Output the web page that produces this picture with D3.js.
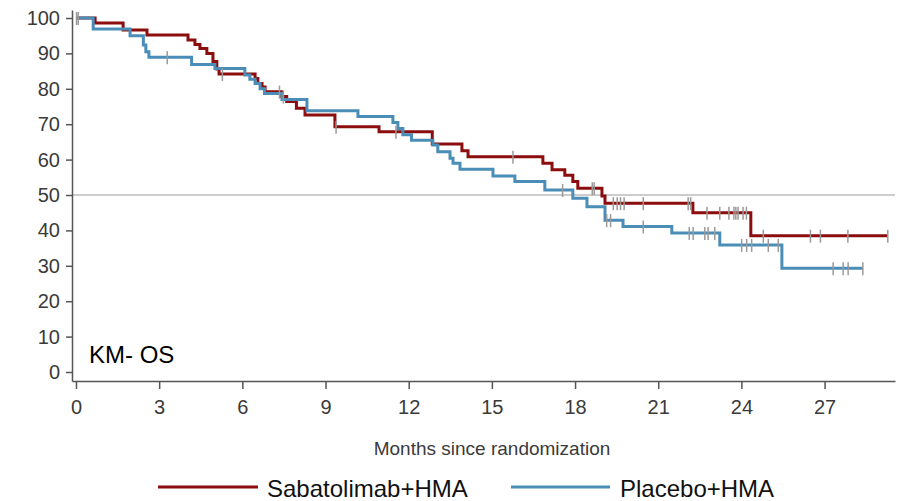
<!DOCTYPE html>
<html>
<head>
<meta charset="utf-8">
<script src="https://cdn.jsdelivr.net/npm/d3@7"></script>
<style>
  html, body { margin: 0; padding: 0; background: #fff; }
  svg { display: block; font-family: "Liberation Sans", Arial, sans-serif; }
</style>
</head>
<body>
<svg id="chart" width="897" height="501"></svg>
<script>
// ---- Data ----
const seriesNames = ["Sabatolimab+HMA", "Placebo+HMA"];
const xTickValues = [0, 3, 6, 9, 12, 15, 18, 21, 24, 27];
const yTickValues = [0, 10, 20, 30, 40, 50, 60, 70, 80, 90, 100];
const referenceLevel = 50;
const panelLabel = "KM- OS";
const xAxisTitle = "Months since randomization";

const sabaTimes = [0, 0.69, 1.70, 2.56, 4.04, 4.29, 4.47, 4.72, 4.94, 5.08, 5.16, 6.46, 6.56, 6.71, 6.82, 7.42, 7.60, 7.95, 8.26, 9.34, 10.93, 12.85, 13.92, 14.14, 16.84, 17.17, 17.63, 17.92, 18.10, 18.97, 19.08, 22.25, 24.34, 29.28];
const sabaSurv  = [100, 98.6, 96.6, 95.2, 93.8, 92.5, 91.4, 90.0, 87.7, 85.6, 84.2, 82.9, 81.5, 80.5, 79.2, 77.8, 76.4, 74.5, 72.6, 69.3, 67.9, 64.4, 62.5, 60.8, 59.0, 57.1, 55.6, 53.8, 51.9, 49.7, 47.7, 45.0, 38.5, 38.5];
const sabaCensor = [0.02, 5.28, 7.34, 7.48, 9.38, 11.54, 15.76, 18.62, 18.69, 19.38, 19.52, 19.64, 19.77, 20.46, 22.08, 22.17, 22.76, 23.22, 23.55, 23.73, 23.80, 23.88, 24.06, 24.18, 24.79, 26.49, 26.85, 27.84, 29.28];

const placTimes = [0, 0.62, 1.95, 2.43, 2.52, 2.63, 4.17, 5.01, 6.09, 6.27, 6.46, 6.64, 6.80, 7.43, 8.33, 10.17, 11.43, 11.61, 11.79, 12.10, 12.87, 13.05, 13.49, 13.60, 13.85, 15.04, 15.83, 16.91, 17.92, 18.43, 19.08, 19.73, 21.49, 23.22, 25.46, 28.38];
const placSurv  = [100, 96.9, 95.0, 92.4, 90.5, 88.9, 86.9, 85.7, 83.9, 82.7, 81.5, 80.0, 78.7, 77.0, 73.8, 72.2, 70.5, 68.8, 67.0, 65.5, 64.1, 62.2, 60.4, 59.0, 57.3, 55.4, 53.8, 51.4, 49.1, 46.7, 42.9, 41.1, 39.3, 35.9, 29.3, 29.3];
const placCensor = [0.08, 3.29, 17.55, 19.14, 19.28, 20.46, 22.12, 22.26, 22.68, 22.80, 23.04, 24.01, 24.19, 24.37, 24.97, 25.33, 27.31, 27.67, 27.85, 28.38];

const colors = ["#8b0d0d", "#4a8db6"];

// ---- Chart ----
const svg = d3.select("#chart");
const x = d3.scaleLinear().domain([-0.144, 29.54]).range([72, 895]);
const y = d3.scaleLinear().domain([-2.54, 102.26]).range([381, 10]);

// reference line at 50
svg.append("line")
  .attr("x1", x.range()[0]).attr("x2", x.range()[1])
  .attr("y1", y(referenceLevel)).attr("y2", y(referenceLevel))
  .attr("stroke", "#9a9a9a").attr("stroke-width", 1);

const series = [
  { times: sabaTimes, surv: sabaSurv, censor: sabaCensor, color: colors[0] },
  { times: placTimes, surv: placSurv, censor: placCensor, color: colors[1] }
];

const line = d3.line()
  .x(d => x(d[0])).y(d => y(d[1]))
  .curve(d3.curveStepAfter);

series.forEach(s => {
  const pts = s.times.map((t, i) => [t, s.surv[i]]);
  svg.append("path")
    .datum(pts)
    .attr("fill", "none")
    .attr("stroke", s.color)
    .attr("stroke-width", 3)
    .attr("d", line);
});

// censor marks
const bis = d3.bisector(d => d).right;
series.forEach(s => {
  const g = svg.append("g");
  s.censor.forEach(t => {
    const idx = Math.max(0, bis(s.times, t) - 1);
    const v = s.surv[idx];
    g.append("line")
      .attr("x1", x(t)).attr("x2", x(t))
      .attr("y1", y(v) - 6).attr("y2", y(v) + 7)
      .attr("stroke", "#9a9a9a").attr("stroke-width", 1.5);
  });
});

// axes
const xAxis = d3.axisBottom(x).tickValues(xTickValues).tickSize(8).tickSizeOuter(0).tickPadding(11);
const gx = svg.append("g").attr("transform", "translate(0,381)").call(xAxis);
gx.select(".domain").attr("stroke", "#555").attr("stroke-width", 1.5);
gx.selectAll(".tick line").attr("stroke", "#555").attr("stroke-width", 1.5);
gx.selectAll(".tick text").attr("fill", "#3a3a3a").style("font-size", "20px")
  .style("font-family", "'Liberation Sans', Arial, sans-serif");

const yAxis = d3.axisLeft(y).tickValues(yTickValues).tickSize(6).tickSizeOuter(0).tickPadding(6);
const gy = svg.append("g").attr("transform", "translate(72,0)").call(yAxis);
gy.select(".domain").attr("stroke", "#555").attr("stroke-width", 1.5);
gy.selectAll(".tick line").attr("stroke", "#555").attr("stroke-width", 1.5);
gy.selectAll(".tick text").attr("fill", "#3a3a3a").style("font-size", "20px")
  .style("font-family", "'Liberation Sans', Arial, sans-serif");

// panel label
svg.append("text")
  .attr("x", 89).attr("y", 363)
  .attr("fill", "#000")
  .style("font-size", "24px")
  .text(panelLabel);

// x axis title
svg.append("text")
  .attr("x", 492).attr("y", 455)
  .attr("text-anchor", "middle")
  .attr("fill", "#3a3a3a")
  .style("font-size", "19px")
  .text(xAxisTitle);

// legend
const legendItems = [
  { name: seriesNames[0], color: colors[0], x0: 158, x1: 258, tx: 267 },
  { name: seriesNames[1], color: colors[1], x0: 511, x1: 610, tx: 620 }
];
legendItems.forEach(d => {
  svg.append("line")
    .attr("x1", d.x0).attr("x2", d.x1)
    .attr("y1", 487).attr("y2", 487)
    .attr("stroke", d.color).attr("stroke-width", 3);
  svg.append("text")
    .attr("x", d.tx).attr("y", 497)
    .attr("fill", "#111")
    .style("font-size", "24px")
    .text(d.name);
});
</script>
</body>
</html>
